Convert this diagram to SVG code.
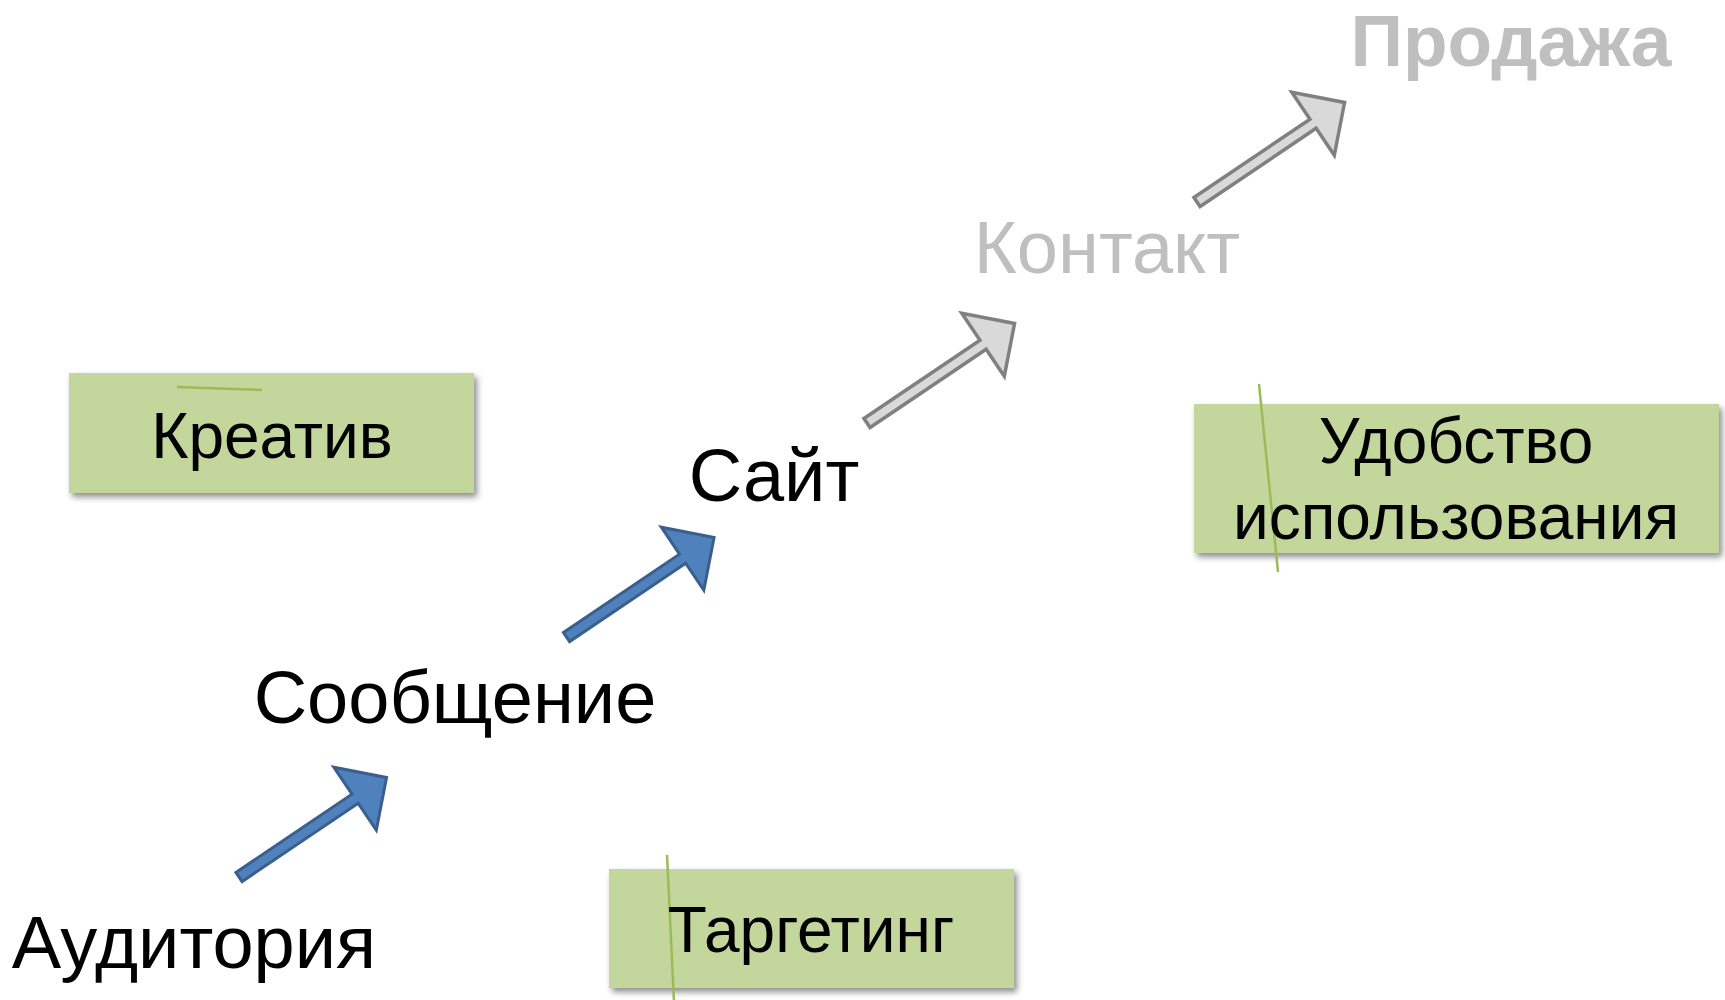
<svg xmlns="http://www.w3.org/2000/svg" xmlns:xlink="http://www.w3.org/1999/xlink" width="1725" height="1000" viewBox="0 0 1725 1000">
<style>
.lbl{font-family:"Liberation Sans",Arial,sans-serif;fill:#000;text-anchor:middle;}
.box{fill:#c3d69b;filter:url(#sh);}
.bt{font-family:"Liberation Sans",Arial,sans-serif;font-size:64px;fill:#000;text-anchor:middle;}
.grey{fill:#bfbfbf;}
.gl{stroke:#9bbb59;stroke-width:2.5;fill:none;}
.blue{fill:#4f81bd;stroke:#3a5f8e;stroke-width:3;stroke-linejoin:miter;}
.gray{fill:#d9d9d9;stroke:#808080;stroke-width:3.5;stroke-linejoin:miter;}
</style>
<defs>
<filter id="sh" x="-10%" y="-20%" width="125%" height="150%">
<feDropShadow dx="3" dy="4" stdDeviation="3" flood-color="#000" flood-opacity="0.45"/>
</filter>
<polygon id="arr" points="0,-5.5 140,-5.5 140,-38 178,0 140,38 140,5.5 0,5.5"/>
</defs>
<rect width="1725" height="1000" fill="#fff"/>

<g id="connectors">
<use xlink:href="#arr" class="blue" transform="translate(239,877) rotate(-34)"/>
<use xlink:href="#arr" class="blue" transform="translate(566.5,637) rotate(-34)"/>
<use xlink:href="#arr" class="gray" transform="translate(867,423) rotate(-34)"/>
<use xlink:href="#arr" class="gray" transform="translate(1197,202) rotate(-34)"/>
</g>

<g id="node-kreativ">
<rect class="box" x="69" y="373" width="405" height="120"/>
<line class="gl" x1="177" y1="387" x2="262" y2="390"/>
<text class="bt" x="272" y="458">Креатив</text>
</g>

<g id="node-udobstvo">
<rect class="box" x="1194" y="404" width="525" height="149"/>
<line class="gl" x1="1259" y1="384" x2="1278" y2="572"/>
<text class="bt" x="1456" y="463">Удобство</text>
<text class="bt" x="1456" y="539">использования</text>
</g>

<g id="node-targeting">
<rect class="box" x="609" y="869" width="405" height="119"/>
<line class="gl" x1="667" y1="855" x2="674" y2="1002"/>
<text class="bt" x="811" y="952">Таргетинг</text>
</g>

<g id="node-auditoriya">
<text class="lbl" font-size="74" x="194" y="968">Аудитория</text>
</g>
<g id="node-soobshchenie">
<text class="lbl" font-size="74" x="455" y="723">Сообщение</text>
</g>
<g id="node-sayt">
<text class="lbl" font-size="74" x="774" y="501">Сайт</text>
</g>
<g id="node-kontakt">
<text class="lbl grey" font-size="74" x="1107" y="273">Контакт</text>
</g>
<g id="node-prodazha">
<text class="lbl grey" font-size="73" x="1511" y="66" font-weight="bold">Продажа</text>
</g>
</svg>
